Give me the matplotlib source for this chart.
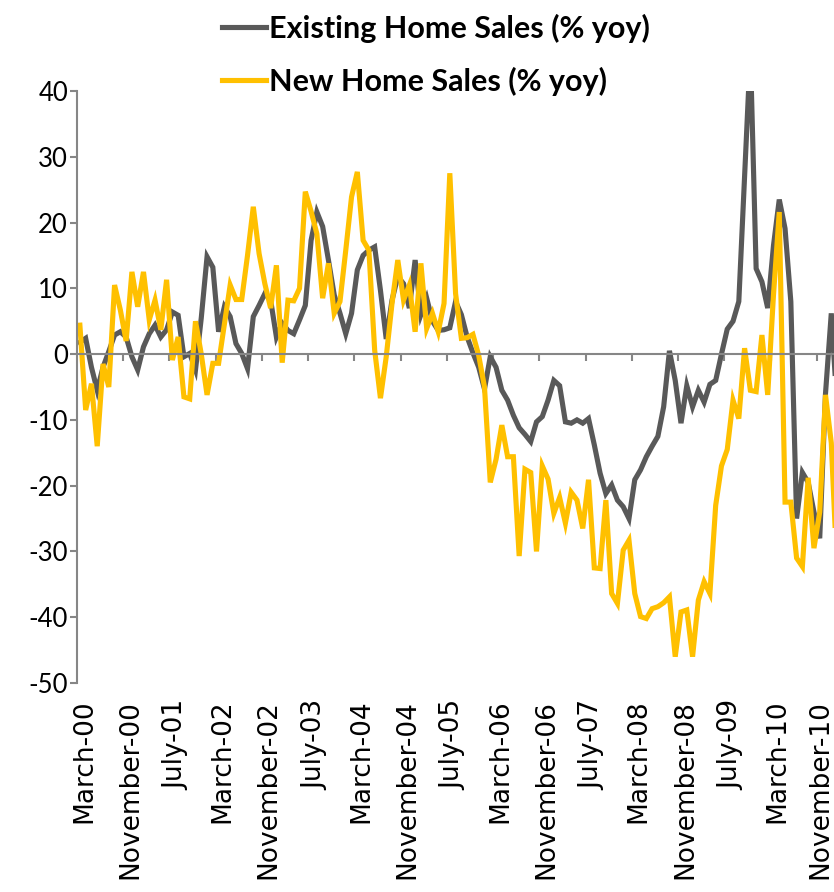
import matplotlib
matplotlib.use("Agg")
import matplotlib.pyplot as plt
import matplotlib.transforms as mtransforms
import pandas as pd

# meses: marzo 2000 a febrero 2011
meses = pd.date_range("2000-03-01", periods=132, freq="MS")

# ventas de viviendas existentes (% yoy)
existentes = [1.8, 2.4, -2.0, -5.5, -2.0, 0.4, 2.9, 3.4, 2.6, -0.4,
              -2.4, 1.1, 3.1, 4.4, 2.6, 3.7, 6.4, 5.9, -0.4, 0.1,
              -2.4, 5.5, 14.8, 13.2, 3.4, 7.2, 5.7, 1.6, 0.1, -2.2,
              5.7, 7.4, 9.2, 8.2, 2.6, 4.7, 3.6, 3.1, 5.2, 7.4,
              17.3, 21.6, 19.4, 14.3, 9.0, 6.2, 3.1, 6.2, 12.8, 15.0,
              15.8, 16.3, 9.7, 2.3, 8.2, 11.8, 10.7, 7.0, 14.3, 6.0,
              8.5, 5.0, 3.6, 3.7, 4.0, 8.0, 6.0, 2.6, 0.2, -2.0,
              -5.3, -0.4, -2.0, -5.5, -7.0, -9.3, -11.2, -12.2, -13.3, -10.3,
              -9.5, -7.0, -4.0, -4.8, -10.3, -10.5, -10.0, -10.5, -9.8, -13.8,
              -18.1, -21.2, -19.9, -22.2, -23.2, -25.0, -19.1, -17.6, -15.6, -14.0,
              -12.5, -8.0, 0.5, -4.0, -10.5, -4.8, -8.0, -5.5, -7.3, -4.6,
              -4.0, 0.0, 3.8, 5.0, 8.0, 27.0, 46.0, 13.0, 11.0, 7.0,
              16.5, 23.5, 19.1, 8.0, -25.0, -18.0, -19.5, -24.0, -28.0, -6.0,
              6.2, -8.0]

# ventas de viviendas nuevas (% yoy)
nuevas = [4.4, -8.5, -4.5, -14.0, -1.5, -5.0, 10.5, 6.7, 2.0, 12.5,
          7.2, 12.5, 5.2, 8.2, 3.7, 11.3, -0.9, 2.6, -6.5, -6.8,
          5.0, 0.0, -6.2, -1.4, -1.4, 4.5, 10.5, 8.3, 8.3, 15.0,
          22.4, 15.3, 10.7, 7.0, 13.5, -1.3, 8.2, 8.1, 10.0, 24.7,
          21.7, 18.3, 8.5, 13.8, 6.2, 8.0, 15.8, 23.9, 27.7, 17.3,
          15.8, 0.6, -6.7, -0.4, 7.7, 14.3, 8.2, 10.5, 3.4, 13.8,
          3.9, 6.2, 3.4, 7.7, 27.5, 9.2, 2.4, 2.5, 3.0, -0.2,
          -5.0, -19.5, -16.0, -10.8, -15.6, -15.6, -30.7, -17.5, -18.0, -30.0,
          -17.0, -19.0, -24.2, -21.8, -25.7, -21.0, -22.2, -26.5, -19.1, -32.5,
          -32.6, -22.2, -36.4, -37.9, -29.8, -28.3, -36.4, -39.9, -40.2, -38.7,
          -38.4, -37.8, -36.9, -46.0, -39.2, -38.9, -46.0, -37.4, -34.6, -36.4,
          -23.0, -17.0, -14.5, -7.0, -9.8, 0.9, -5.5, -5.7, 2.9, -6.2,
          9.0, 21.6, -22.5, -22.5, -31.0, -32.3, -18.8, -29.5, -24.0, -6.2,
          -13.5, -33.0]

etiquetas = ["March-00", "November-00", "July-01", "March-02", "November-02",
             "July-03", "March-04", "November-04", "July-05", "March-06",
             "November-06", "July-07", "March-08", "November-08", "July-09",
             "March-10", "November-10"]

df = pd.DataFrame({"Existing Home Sales (% yoy)": existentes,
                   "New Home Sales (% yoy)": nuevas}, index=meses)
x = list(range(len(df)))

fig = plt.figure(figsize=(8.34, 8.92), dpi=100)
ax = fig.add_axes([77 / 834, 1 - 683 / 892, 1 - 77 / 834, (683 - 91) / 892])

gris_eje = "#868686"
ax.plot(x, df["Existing Home Sales (% yoy)"], color="#595959", lw=3.7,
        label="Existing Home Sales (% yoy)", solid_joinstyle="miter")
ax.plot(x, df["New Home Sales (% yoy)"], color="#FFC000", lw=3.7,
        label="New Home Sales (% yoy)", solid_joinstyle="miter")

ax.set_ylim(-50, 40)
ax.set_xlim(-0.5, 130.47)
ax.set_yticks(range(-50, 41, 10))
ax.set_yticklabels([str(v) for v in range(-50, 41, 10)], family="Lato", fontsize=18.5)

# eje horizontal cruzando en cero
ax.spines["top"].set_position(("data", 0))
ax.spines["right"].set_visible(False)
ax.spines["bottom"].set_visible(False)
for s in ["top", "left"]:
    ax.spines[s].set_color(gris_eje)
    ax.spines[s].set_linewidth(1.5)

pos = list(range(0, len(df), 8))[:len(etiquetas)]
ax.set_xticks(pos)
ax.set_xticklabels(etiquetas, rotation=90, family="DejaVu Sans", fontsize=19)
ax.set_xticks([p + 7.5 for p in pos[:-1]], minor=True)
ax.tick_params(axis="x", which="major", length=0, pad=12, top=False, bottom=True)
ax.tick_params(axis="x", which="minor", top=True, bottom=False, direction="in",
               length=5, width=1.5, color=gris_eje)
ax.tick_params(axis="y", length=5, width=1.5, color=gris_eje, pad=1.5)

# etiquetas un poco a la derecha, la ultima pegada al borde
labels_x = ax.get_xticklabels()
for i, t in enumerate(labels_x):
    dx = 1 if i == len(labels_x) - 1 else 4
    t.set_transform(t.get_transform() +
                    mtransforms.ScaledTranslation(dx / 100, 0, fig.dpi_scale_trans))

ax.legend(loc="upper left", bbox_to_anchor=(222 / 834, 1 - 14 / 892),
          bbox_transform=fig.transFigure, frameon=False,
          prop={"family": "Lato", "weight": "bold", "size": 22},
          handlelength=1.45, handletextpad=0.1, labelspacing=0.78,
          borderaxespad=0, borderpad=0)

plt.savefig("out.png", dpi=100)
